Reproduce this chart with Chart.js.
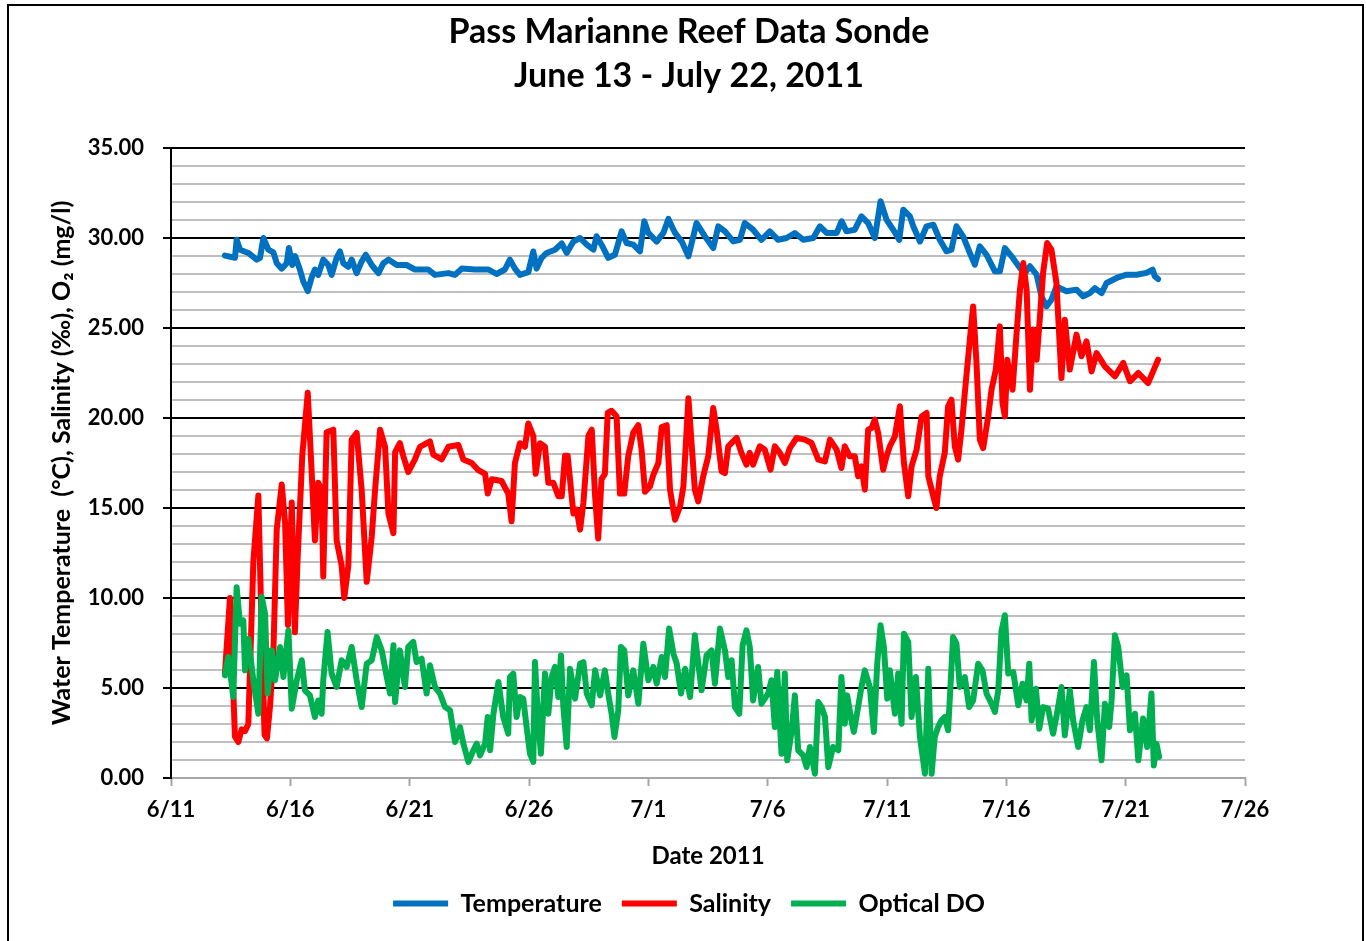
<!DOCTYPE html>
<html>
<head>
<meta charset="utf-8">
<title>Pass Marianne Reef Data Sonde</title>
<script src="https://cdn.jsdelivr.net/npm/chart.js@4.4.1/dist/chart.umd.min.js"></script>
<style>
  html, body { margin: 0; padding: 0; background: #fff; overflow: hidden; }
  canvas { position: absolute; left: 0; top: 0; }
  #frame { position: absolute; left: 7px; top: 4px; width: 1357px; height: 1000px; border: 2px solid #000; box-sizing: border-box; pointer-events: none; }
</style>
</head>
<body>
<canvas id="sonde" width="1366" height="941"></canvas>
<div id="frame"></div>
<script>
// x values are days after 6/11/2011
const xTickLabels = ['6/11', '6/16', '6/21', '6/26', '7/1', '7/6', '7/11', '7/16', '7/21', '7/26'];

const tempDays = [2.26,2.68,2.75,2.89,3.24,3.59,3.73,3.87,4.08,4.29,4.43,4.64,4.85,4.94,5.08,5.2,5.4,5.54,5.73,5.89,
  6.03,6.17,6.38,6.59,6.73,6.94,7.08,7.22,7.43,7.57,7.78,7.99,8.16,8.41,8.69,8.9,9.11,9.46,9.87,10.22,
  10.78,11.06,11.62,11.9,12.18,12.74,13.3,13.64,13.99,14.2,14.41,14.62,14.97,15.18,15.32,15.53,15.74,16.09,16.37,16.58,
  16.86,17.14,17.42,17.7,17.83,18.04,18.32,18.6,18.88,19.09,19.37,19.65,19.83,20.0,20.35,20.63,20.84,21.12,21.4,21.68,
  22.02,22.37,22.72,22.93,23.21,23.56,23.84,24.04,24.39,24.74,25.09,25.44,25.79,26.14,26.49,26.91,27.19,27.47,27.89,28.1,
  28.3,28.65,28.93,29.21,29.49,29.73,29.98,30.26,30.51,30.68,30.96,31.1,31.38,31.66,31.94,32.21,32.49,32.7,32.91,33.19,
  33.47,33.68,33.89,34.17,34.52,34.73,34.94,35.22,35.57,35.78,35.99,36.27,36.47,36.68,36.89,37.1,37.52,37.94,38.22,38.5,
  38.71,38.99,39.2,39.62,40.04,40.46,40.87,41.13,41.22,41.36];
const tempVals = [29.02,28.9,29.9,29.35,29.17,28.8,28.9,30.0,29.35,29.2,28.6,28.3,28.6,29.45,28.5,29.0,28.25,27.6,27.05,27.8,
  28.25,27.95,28.8,28.5,27.95,28.9,29.25,28.6,28.4,28.8,28.05,28.7,29.07,28.5,28.05,28.6,28.8,28.5,28.5,28.25,
  28.25,27.95,28.05,27.95,28.3,28.25,28.25,28.0,28.25,28.8,28.3,27.95,28.1,29.25,28.3,28.9,29.17,29.35,29.7,29.17,
  29.8,30.0,29.63,29.35,30.1,29.63,28.9,29.07,30.37,29.72,29.63,29.26,30.93,30.28,29.8,30.28,31.06,30.28,29.8,28.98,
  30.83,30.09,29.44,30.65,30.37,29.81,29.9,30.83,30.46,29.9,30.37,29.9,30.0,30.28,29.9,30.0,30.65,30.28,30.28,30.93,
  30.37,30.46,31.2,30.83,30.0,32.04,31.02,30.46,29.9,31.57,31.2,30.65,29.81,30.65,30.74,29.9,29.26,29.35,30.65,30.09,
  29.17,28.52,29.54,29.07,28.15,28.15,29.44,28.98,28.33,28.06,28.43,27.96,26.76,26.2,26.57,27.31,27.04,27.13,26.76,26.94,
  27.22,26.94,27.5,27.78,27.96,27.96,28.06,28.24,27.87,27.72];

const salDays = [2.26,2.47,2.68,2.82,2.96,3.1,3.24,3.45,3.66,3.8,3.92,4.02,4.15,4.29,4.43,4.64,4.78,4.9,5.06,5.19,
  5.3,5.5,5.73,5.89,6.03,6.17,6.31,6.38,6.52,6.8,6.94,7.15,7.26,7.43,7.57,7.78,7.99,8.2,8.41,8.55,
  8.76,8.97,9.11,9.32,9.39,9.59,9.73,9.94,10.22,10.43,10.85,10.99,11.34,11.62,12.04,12.25,12.6,12.88,13.16,13.27,
  13.44,13.85,14.13,14.27,14.41,14.62,14.83,14.97,15.18,15.28,15.46,15.67,15.81,16.02,16.23,16.37,16.51,16.62,16.86,17.0,
  17.14,17.28,17.49,17.63,17.77,17.9,18.04,18.18,18.3,18.46,18.67,18.81,18.99,19.16,19.37,19.58,19.72,19.86,20.07,20.21,
  20.42,20.56,20.77,20.91,21.12,21.33,21.47,21.68,21.95,22.09,22.3,22.51,22.72,22.86,23.07,23.21,23.35,23.7,23.9,24.11,
  24.25,24.39,24.67,24.88,25.12,25.3,25.51,25.72,25.93,26.21,26.56,26.84,27.12,27.4,27.61,27.89,28.09,28.23,28.44,28.65,
  28.79,28.93,29.07,29.21,29.35,29.49,29.63,29.84,29.98,30.12,30.33,30.54,30.71,30.89,31.03,31.24,31.45,31.66,31.73,31.94,
  32.07,32.21,32.42,32.56,32.7,32.84,32.98,33.12,33.26,33.47,33.61,33.75,33.89,34.03,34.24,34.38,34.56,34.73,34.84,34.94,
  35.04,35.15,35.26,35.43,35.57,35.71,35.85,35.99,36.13,36.27,36.41,36.54,36.71,36.89,37.1,37.31,37.45,37.66,37.94,38.15,
  38.36,38.57,38.78,39.13,39.55,39.9,40.18,40.53,40.94,41.15,41.36];
const salVals = [5.8,10.0,2.3,2.0,2.7,2.6,3.0,12.0,15.7,8.0,2.4,2.2,4.0,7.0,13.8,16.3,14.2,8.5,15.3,8.1,
  12.0,17.9,21.4,17.1,13.2,16.4,16.0,11.2,19.2,19.35,13.2,11.8,10.0,11.8,18.8,19.17,16.0,10.9,13.4,16.0,
  19.35,18.4,14.7,13.6,18.1,18.6,17.9,17.0,17.7,18.4,18.7,17.96,17.7,18.4,18.5,17.7,17.5,17.1,16.9,15.8,
  16.6,16.5,15.8,14.26,17.5,18.6,18.4,19.7,19.0,16.9,18.6,18.4,16.4,16.4,15.65,15.65,17.9,17.9,14.7,14.9,
  13.8,15.3,19.0,19.35,15.65,13.3,16.6,16.9,20.3,20.4,20.1,15.8,15.8,17.9,19.2,19.6,18.2,15.9,16.2,16.85,
  17.5,19.5,19.6,16.0,14.35,15.1,16.2,21.1,16.0,15.37,16.76,17.87,20.56,19.35,17.04,16.94,18.43,18.89,18.06,17.41,
  18.06,17.41,18.43,18.24,17.13,18.43,18.06,17.5,18.33,18.89,18.8,18.61,17.69,17.59,18.8,18.24,17.22,18.43,17.87,17.87,
  16.76,17.31,16.02,19.35,19.44,19.91,19.17,17.13,17.87,18.43,18.98,20.65,17.5,15.65,17.31,18.24,20.09,20.28,16.76,15.65,
  15.0,16.76,18.06,20.65,21.02,18.43,17.69,19.35,21.39,24.35,26.2,23.06,18.8,18.33,20.09,21.57,22.69,25.09,20.83,20.09,
  23.24,22.31,21.57,24.72,27.13,28.61,27.13,21.57,24.91,23.24,25.65,28.06,29.72,29.35,27.5,22.22,25.46,22.69,24.63,23.43,
  24.26,22.59,23.61,22.87,22.31,23.06,22.04,22.5,21.94,22.59,23.24];

const doDays = [2.26,2.4,2.61,2.75,2.89,3.03,3.1,3.24,3.45,3.66,3.8,3.94,4.05,4.22,4.36,4.57,4.71,4.92,5.06,5.27,
  5.48,5.61,5.82,6.03,6.17,6.31,6.38,6.56,6.73,6.94,7.15,7.36,7.57,7.78,7.99,8.2,8.41,8.62,8.83,9.04,
  9.18,9.32,9.39,9.59,9.8,9.94,10.15,10.29,10.5,10.71,10.85,11.06,11.27,11.48,11.69,11.9,12.11,12.25,12.46,12.67,
  12.81,12.95,13.16,13.27,13.37,13.51,13.72,13.92,14.13,14.2,14.34,14.48,14.62,14.76,14.9,15.04,15.18,15.25,15.39,15.5,
  15.67,15.81,15.95,16.09,16.23,16.34,16.44,16.58,16.72,16.93,17.14,17.28,17.42,17.63,17.77,17.98,18.18,18.32,18.46,18.58,
  18.74,18.85,18.99,19.16,19.37,19.58,19.79,20.0,20.21,20.35,20.56,20.7,20.87,21.05,21.19,21.37,21.54,21.75,
  21.95,22.23,22.44,22.65,22.79,23.0,23.21,23.35,23.49,23.63,23.81,23.95,24.11,24.25,24.39,24.6,24.74,25.02,25.16,25.3,
  25.4,25.58,25.72,25.82,26.0,26.14,26.28,26.49,26.63,26.77,26.98,27.12,27.26,27.4,27.54,27.74,27.96,28.09,28.23,28.33,
  28.51,28.61,28.79,28.93,29.07,29.28,29.45,29.59,29.73,29.87,30.01,30.12,30.33,30.47,30.61,30.71,30.89,31.03,31.21,31.38,
  31.59,31.73,31.87,32.0,32.14,32.28,32.42,32.56,32.77,32.91,33.05,33.26,33.44,33.61,33.82,34.0,34.17,34.38,34.52,34.66,
  34.8,34.94,35.08,35.29,35.5,35.68,35.85,35.96,36.06,36.24,36.38,36.54,36.75,36.96,37.17,37.31,37.45,37.66,37.8,38.01,
  38.19,38.36,38.5,38.67,38.81,38.99,39.13,39.31,39.41,39.55,39.69,39.87,40.04,40.18,40.39,40.53,40.73,40.9,41.08,41.18,
  41.29,41.4];
const doVals = [5.7,6.72,4.5,10.6,8.57,8.76,5.98,7.74,5.43,3.57,10.06,9.13,4.69,7.09,5.43,7.28,5.61,8.2,3.85,5.43,
  6.54,4.87,4.59,3.39,4.31,3.57,5.43,8.11,5.8,5.06,6.54,6.17,7.28,5.43,3.94,6.35,6.54,7.83,7.09,5.61,
  4.69,7.37,4.22,7.09,5.06,7.28,7.56,6.44,6.63,4.69,6.26,5.06,4.69,3.94,3.76,2.0,2.83,1.91,0.89,1.54,
  1.91,1.26,1.91,3.39,1.54,3.57,5.33,3.39,2.46,5.61,5.8,3.39,4.5,4.41,2.83,1.35,0.89,6.44,3.02,1.35,
  5.8,3.57,5.61,6.17,4.5,6.81,3.94,1.72,6.07,4.41,6.35,6.44,4.69,4.04,5.98,4.59,5.98,4.69,3.57,2.28,
  3.76,7.28,7.09,4.59,5.98,4.13,7.46,5.43,6.17,5.24,6.72,5.61,8.3,6.91,6.35,4.69,6.07,4.5,
  7.93,4.87,6.81,7.09,5.24,8.3,7.09,5.61,6.54,3.94,3.57,7.37,8.2,7.28,4.31,6.17,4.13,4.69,5.43,2.83,
  5.89,1.35,5.8,0.98,2.56,4.59,1.54,1.26,0.61,1.72,0.24,4.22,3.94,3.39,0.61,1.72,1.54,5.61,3.02,4.59,
  3.2,2.56,3.94,5.06,5.98,5.06,2.56,6.35,8.48,7.28,4.41,5.98,3.57,5.8,3.02,8.02,7.56,3.39,5.61,2.28,
  0.24,6.07,0.24,2.28,2.83,3.2,3.39,2.65,7.83,7.46,5.06,5.61,3.94,4.31,6.35,5.98,4.69,4.13,3.67,4.87,
  8.2,9.04,5.8,5.89,4.04,5.24,4.31,6.35,3.2,4.96,2.74,3.94,3.85,2.46,3.94,5.06,2.37,4.87,3.2,1.72,
  3.2,3.94,2.65,6.44,3.2,0.98,4.13,2.83,4.31,7.93,7.28,5.06,5.7,2.65,3.57,0.98,3.3,1.72,4.69,0.7,
  1.91,1.17];

const toPoints = (days, vals) => days.map((d, i) => ({ x: d, y: vals[i] }));

const FONT = 'Lato, "Open Sans", "DejaVu Sans", sans-serif';
Chart.defaults.font.family = FONT;
Chart.defaults.color = '#000';

const lineStyle = { borderWidth: 6, pointRadius: 0, tension: 0, borderCapStyle: 'round', borderJoinStyle: 'round', fill: false };

new Chart(document.getElementById('sonde'), {
  type: 'line',
  data: {
    datasets: [
      { label: 'Temperature', data: toPoints(tempDays, tempVals), borderColor: '#0070C0', backgroundColor: '#0070C0', order: 3, ...lineStyle },
      { label: 'Salinity', data: toPoints(salDays, salVals), borderColor: '#FF0000', backgroundColor: '#FF0000', order: 2, ...lineStyle },
      { label: 'Optical DO', data: toPoints(doDays, doVals), borderColor: '#00B050', backgroundColor: '#00B050', order: 1, ...lineStyle }
    ]
  },
  options: {
    responsive: false,
    animation: false,
    events: [],
    layout: { padding: { left: 12, right: 0, top: 0, bottom: 15 } },
    plugins: {
      tooltip: { enabled: false },
      title: {
        display: true,
        text: ['Pass Marianne Reef Data Sonde', 'June 13 - July 22, 2011'],
        color: '#000',
        font: { size: 34, weight: 'bold', lineHeight: '44px' },
        padding: { top: 10, bottom: 50 }
      },
      legend: {
        position: 'bottom',
        labels: {
          usePointStyle: true,
          pointStyle: 'line',
          pointStyleWidth: 55,
          padding: 20,
          color: '#000',
          font: { size: 25, weight: 'bold' },
          sort: (a, b) => a.datasetIndex - b.datasetIndex
        }
      }
    },
    scales: {
      x: {
        type: 'linear',
        min: 0,
        max: 45,
        afterFit: (s) => { s.height = 93; },
        grid: { drawOnChartArea: false, drawTicks: true, tickLength: 8, tickColor: '#A6A6A6', tickWidth: 2 },
        border: { color: '#A6A6A6', width: 2 },
        ticks: {
          stepSize: 5, autoSkip: false, maxRotation: 0, padding: 11,
          font: { size: 22, weight: 'bold' },
          callback: (v, i) => xTickLabels[i]
        },
        title: { display: true, text: 'Date 2011', font: { size: 24, weight: 'bold' }, padding: { top: 0, bottom: 0 } }
      },
      y: {
        min: 0,
        max: 35,
        afterFit: (s) => { s.width = 159; },
        grid: {
          color: (c) => c.tick.value === 0 ? '#A6A6A6' : (c.tick.value % 5 === 0 ? '#000' : '#BFBFBF'),
          lineWidth: 2,
          tickLength: 8,
          tickWidth: 2,
          tickColor: (c) => c.tick.value % 5 === 0 ? '#000' : 'rgba(0,0,0,0)'
        },
        border: { color: '#000', width: 2 },
        ticks: {
          stepSize: 1, autoSkip: false, padding: 19,
          font: { size: 22, weight: 'bold' },
          callback: (v) => v % 5 === 0 ? v.toFixed(2) : ''
        },
        title: {
          display: true,
          text: 'Water Temperature  (°C), Salinity (‰), O₂ (mg/l)',
          font: { size: 25, weight: 'bold' },
          padding: { top: 35, bottom: 0 }
        }
      },
      yRight: {
        position: 'right',
        afterFit: (s) => { s.width = 121; },
        grid: { display: false },
        border: { display: false },
        ticks: { display: false }
      }
    }
  }
});
</script>
</body>
</html>
